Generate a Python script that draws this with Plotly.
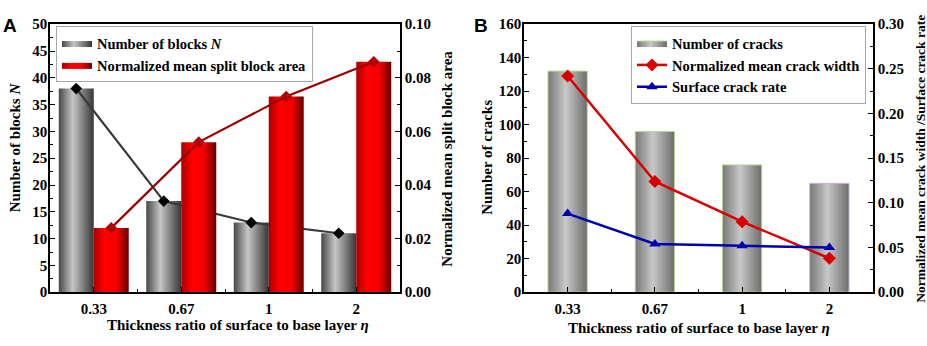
import plotly.graph_objects as go

# ---------------- data ----------------
categories = ["0.33", "0.67", "1", "2"]
blocks = [38, 17, 13, 11]                      # Number of blocks N (left axis, panel A)
split_area = [0.024, 0.056, 0.073, 0.086]      # Normalized mean split block area (right axis, panel A)
cracks = [132, 96, 76, 65]                     # Number of cracks (left axis, panel B)
crack_width = [0.242, 0.124, 0.079, 0.038]     # Normalized mean crack width (right axis, panel B)
crack_rate = [0.088, 0.054, 0.052, 0.050]      # Surface crack rate (right axis, panel B)

# tick labels
ticks_blocks = [0, 5, 10, 15, 20, 25, 30, 35, 40, 45, 50]
ticks_area = [0.00, 0.02, 0.04, 0.06, 0.08, 0.10]
ticks_cracks = [0, 20, 40, 60, 80, 100, 120, 140, 160]
ticks_width = [0.00, 0.05, 0.10, 0.15, 0.20, 0.25, 0.30]

SERIF = "Liberation Serif"
pos = list(range(len(categories)))

fig = go.Figure()


def font(size, color="black"):
    return dict(family=SERIF, size=size, color=color, weight="bold")


def bold(labels):
    return ["<b>%s</b>" % s for s in labels]


def gradient_bars(values, offset, width, xa, ya, name, cs, legend, outline, outline_w):
    for i, (p, v) in enumerate(zip(pos, values)):
        x0 = p + offset - width / 2
        x1 = p + offset + width / 2
        fig.add_trace(go.Scatter(
            x=[x0, x0, x1, x1, x0], y=[0, v, v, 0, 0],
            fill="toself", mode="lines",
            line=dict(width=outline_w, color=outline[i]),
            fillgradient=dict(type="horizontal", colorscale=cs, start=x0, stop=x1),
            xaxis=xa, yaxis=ya, name=name, legendgroup=name,
            showlegend=(i == 0), legend=legend, hoverinfo="skip"))


grey_a = [[0, "#474747"], [0.4, "#c6c6c6"], [1, "#363636"]]
red_a = [[0, "#a80000"], [0.3, "#ff0000"], [0.65, "#f40000"], [1, "#680000"]]
grey_b = [[0, "#777777"], [0.45, "#c8c8c8"], [1, "#6c6c6c"]]

# ---------------- panel A ----------------
gradient_bars(blocks, -0.2, 0.4, "x", "y", "<b>Number of blocks <i>N</i></b>", grey_a, "legend",
              ["#555555"] * 4, 0)
gradient_bars(split_area, 0.2, 0.4, "x", "y2", "<b>Normalized mean split block area</b>", red_a,
              "legend", ["#900000"] * 4, 0)

fig.add_trace(go.Scatter(
    x=[p - 0.2 for p in pos], y=blocks, mode="lines+markers",
    line=dict(color="#3a3a3a", width=2.2),
    marker=dict(symbol="diamond", size=9, color="black"),
    xaxis="x", yaxis="y", showlegend=False))
fig.add_trace(go.Scatter(
    x=[p + 0.2 for p in pos], y=split_area, mode="lines+markers",
    line=dict(color="#9a0000", width=2.2),
    marker=dict(symbol="diamond", size=9, color="#b00000"),
    xaxis="x", yaxis="y2", showlegend=False))

# ---------------- panel B ----------------
gradient_bars(cracks, 0.0, 0.45, "x2", "y3", "<b>Number of cracks</b>", grey_b, "legend2",
              ["#b8d890", "#b8d890", "#b8d890", "#c8b0e0"], 1)
fig.add_trace(go.Scatter(
    x=pos, y=crack_width, mode="lines+markers", name="<b>Normalized mean crack width</b>",
    line=dict(color="#d80000", width=2.5),
    marker=dict(symbol="diamond", size=10, color="#d80000"),
    xaxis="x2", yaxis="y4", legend="legend2"))
fig.add_trace(go.Scatter(
    x=pos, y=crack_rate, mode="lines+markers", name="<b>Surface crack rate</b>",
    line=dict(color="#0000b0", width=2.5),
    marker=dict(symbol="triangle-up", size=10, color="#0000b0"),
    xaxis="x2", yaxis="y4", legend="legend2"))

# ---------------- layout ----------------
W, H = 927, 346
ydom = [1 - 298 / H, 1 - 17 / H]
xdomA = [50 / W, 400 / W]
xdomB = [524 / W, 873 / W]

common_axis = dict(showline=True, linecolor="black", linewidth=1.5, showgrid=False,
                   zeroline=False, ticks="inside", ticklen=5, tickwidth=1.3,
                   tickcolor="black", tickfont=font(15), tickmode="array")


def xaxis_cfg(domain, anchor):
    return dict(common_axis, domain=domain, anchor=anchor, range=[-0.5, 3.5],
                tickvals=pos, ticktext=bold(categories), mirror=True, ticklabelstandoff=2,
                minor=dict(tickmode="array", tickvals=[0.5, 1.5, 2.5], ticks="inside",
                           ticklen=3, tickcolor="black"))


def yaxis_cfg(domain, anchor, rng, vals, fmt, minor_dtick, right=False, over=None):
    d = dict(common_axis, domain=domain, anchor=anchor, range=rng,
             tickvals=vals, ticktext=bold([fmt % v for v in vals]), ticklabelstandoff=-2,
             minor=dict(tickmode="linear", tick0=0, dtick=minor_dtick, ticks="inside",
                        ticklen=3, tickcolor="black"))
    if right:
        d.update(side="right", overlaying=over, ticklabelstandoff=0)
    return d


def title_ann(text, x, y, angle=0, size=15):
    return dict(text="<b>%s</b>" % text, x=x / W, y=1 - y / H, xref="paper", yref="paper",
                showarrow=False, textangle=angle, xanchor="center", yanchor="middle",
                font=font(size))


xtitle = "Thickness ratio of surface to base layer <i>η</i>"
panel_font = dict(family="Liberation Sans", size=19, color="black", weight="bold")

fig.update_layout(
    width=W, height=H,
    margin=dict(l=0, r=0, t=0, b=0),
    paper_bgcolor="white", plot_bgcolor="white",
    font=font(15),
    xaxis=xaxis_cfg(xdomA, "y"),
    xaxis2=xaxis_cfg(xdomB, "y3"),
    yaxis=yaxis_cfg(ydom, "x", [0, 50], ticks_blocks, "%d", 2.5),
    yaxis2=yaxis_cfg(ydom, "x", [0, 0.1], ticks_area, "%.2f", 0.01, True, "y"),
    yaxis3=yaxis_cfg(ydom, "x2", [0, 160], ticks_cracks, "%d", 10),
    yaxis4=yaxis_cfg(ydom, "x2", [0, 0.3], ticks_width, "%.2f", 0.025, True, "y3"),
    legend=dict(x=56 / W, y=1 - 19 / H, xanchor="left", yanchor="top",
                bgcolor="white", bordercolor="#a8a8a8", borderwidth=1,
                font=font(14.5), tracegroupgap=0, itemwidth=30),
    legend2=dict(x=631 / W, y=1 - 19 / H, xanchor="left", yanchor="top",
                 bgcolor="white", bordercolor="#a8a8a8", borderwidth=1,
                 font=font(14.5), tracegroupgap=0, itemwidth=30),
    annotations=[
        dict(text="A", x=10 / W, y=1 - 18 / H, xref="paper", yref="paper", showarrow=False,
             xanchor="center", yanchor="middle", font=panel_font),
        dict(text="B", x=481 / W, y=1 - 18 / H, xref="paper", yref="paper", showarrow=False,
             xanchor="center", yanchor="middle", font=panel_font),
        title_ann(xtitle, 238, 332),
        title_ann(xtitle, 699, 336),
        title_ann("Number of blocks <i>N</i>", 15, 146, -90),
        title_ann("Normalized mean split block area", 447, 158, -90),
        title_ann("Number of cracks", 487, 157, -90),
        title_ann("Normalized mean crack width /Surface crack rate", 921, 158, -90, 13.5),
    ],
)

fig.write_html("out.html", config={"displayModeBar": False},
               post_script="document.body.style.margin='0px';")
